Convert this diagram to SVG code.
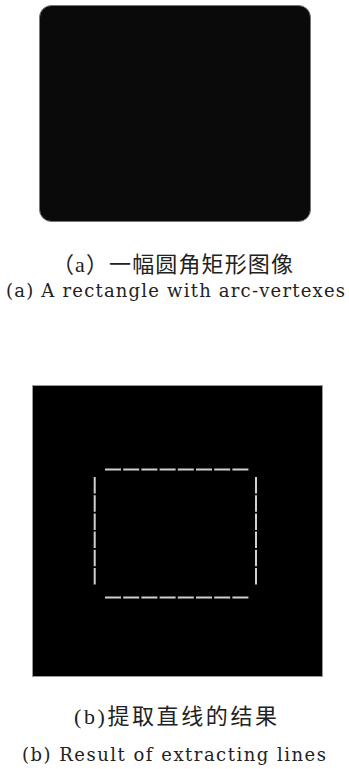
<svg xmlns="http://www.w3.org/2000/svg" width="349" height="769" viewBox="0 0 349 769">
<style>
.cn{font-family:"Liberation Serif","Noto Sans CJK SC",serif;font-size:22px;fill:#222;text-anchor:middle}
.en{font-family:"DejaVu Serif","Liberation Serif",serif;font-size:18px;fill:#222;text-anchor:middle}
.hd{stroke:#d0d0d0;stroke-width:2;fill:none;stroke-dasharray:16 2.2}
.vd{stroke:#d0d0d0;stroke-width:2;fill:none;stroke-dasharray:16.5 1.7}
</style>
<rect width="349" height="769" fill="#ffffff"/>
<g id="panel-a">
<rect x="39.5" y="5.5" width="271" height="216" rx="12" ry="12" fill="#0a0a0a" stroke="#777" stroke-width="1"/>
</g>
<g id="caption-a">
<text class="cn" x="172.5" y="272" textLength="241" lengthAdjust="spacing">（a）一幅圆角矩形图像</text>
<text class="en" x="175.5" y="297" textLength="339" lengthAdjust="spacing">(a) A rectangle with arc-vertexes</text>
</g>
<g id="panel-b">
<rect x="32.5" y="385.5" width="290" height="291" fill="#000" stroke="#999" stroke-width="1"/>
<line class="hd" x1="105" y1="469.5" x2="249" y2="469.5"/>
<line class="hd" x1="105" y1="597.5" x2="249" y2="597.5"/>
<line class="vd" x1="94.7" y1="477" x2="94.7" y2="585"/>
<line class="vd" x1="256" y1="477" x2="256" y2="585"/>
</g>
<g id="caption-b">
<text class="cn" x="175.5" y="724" textLength="203" lengthAdjust="spacing">(b)提取直线的结果</text>
<text class="en" x="174" y="761" textLength="304" lengthAdjust="spacing">(b) Result of extracting lines</text>
</g>
</svg>
